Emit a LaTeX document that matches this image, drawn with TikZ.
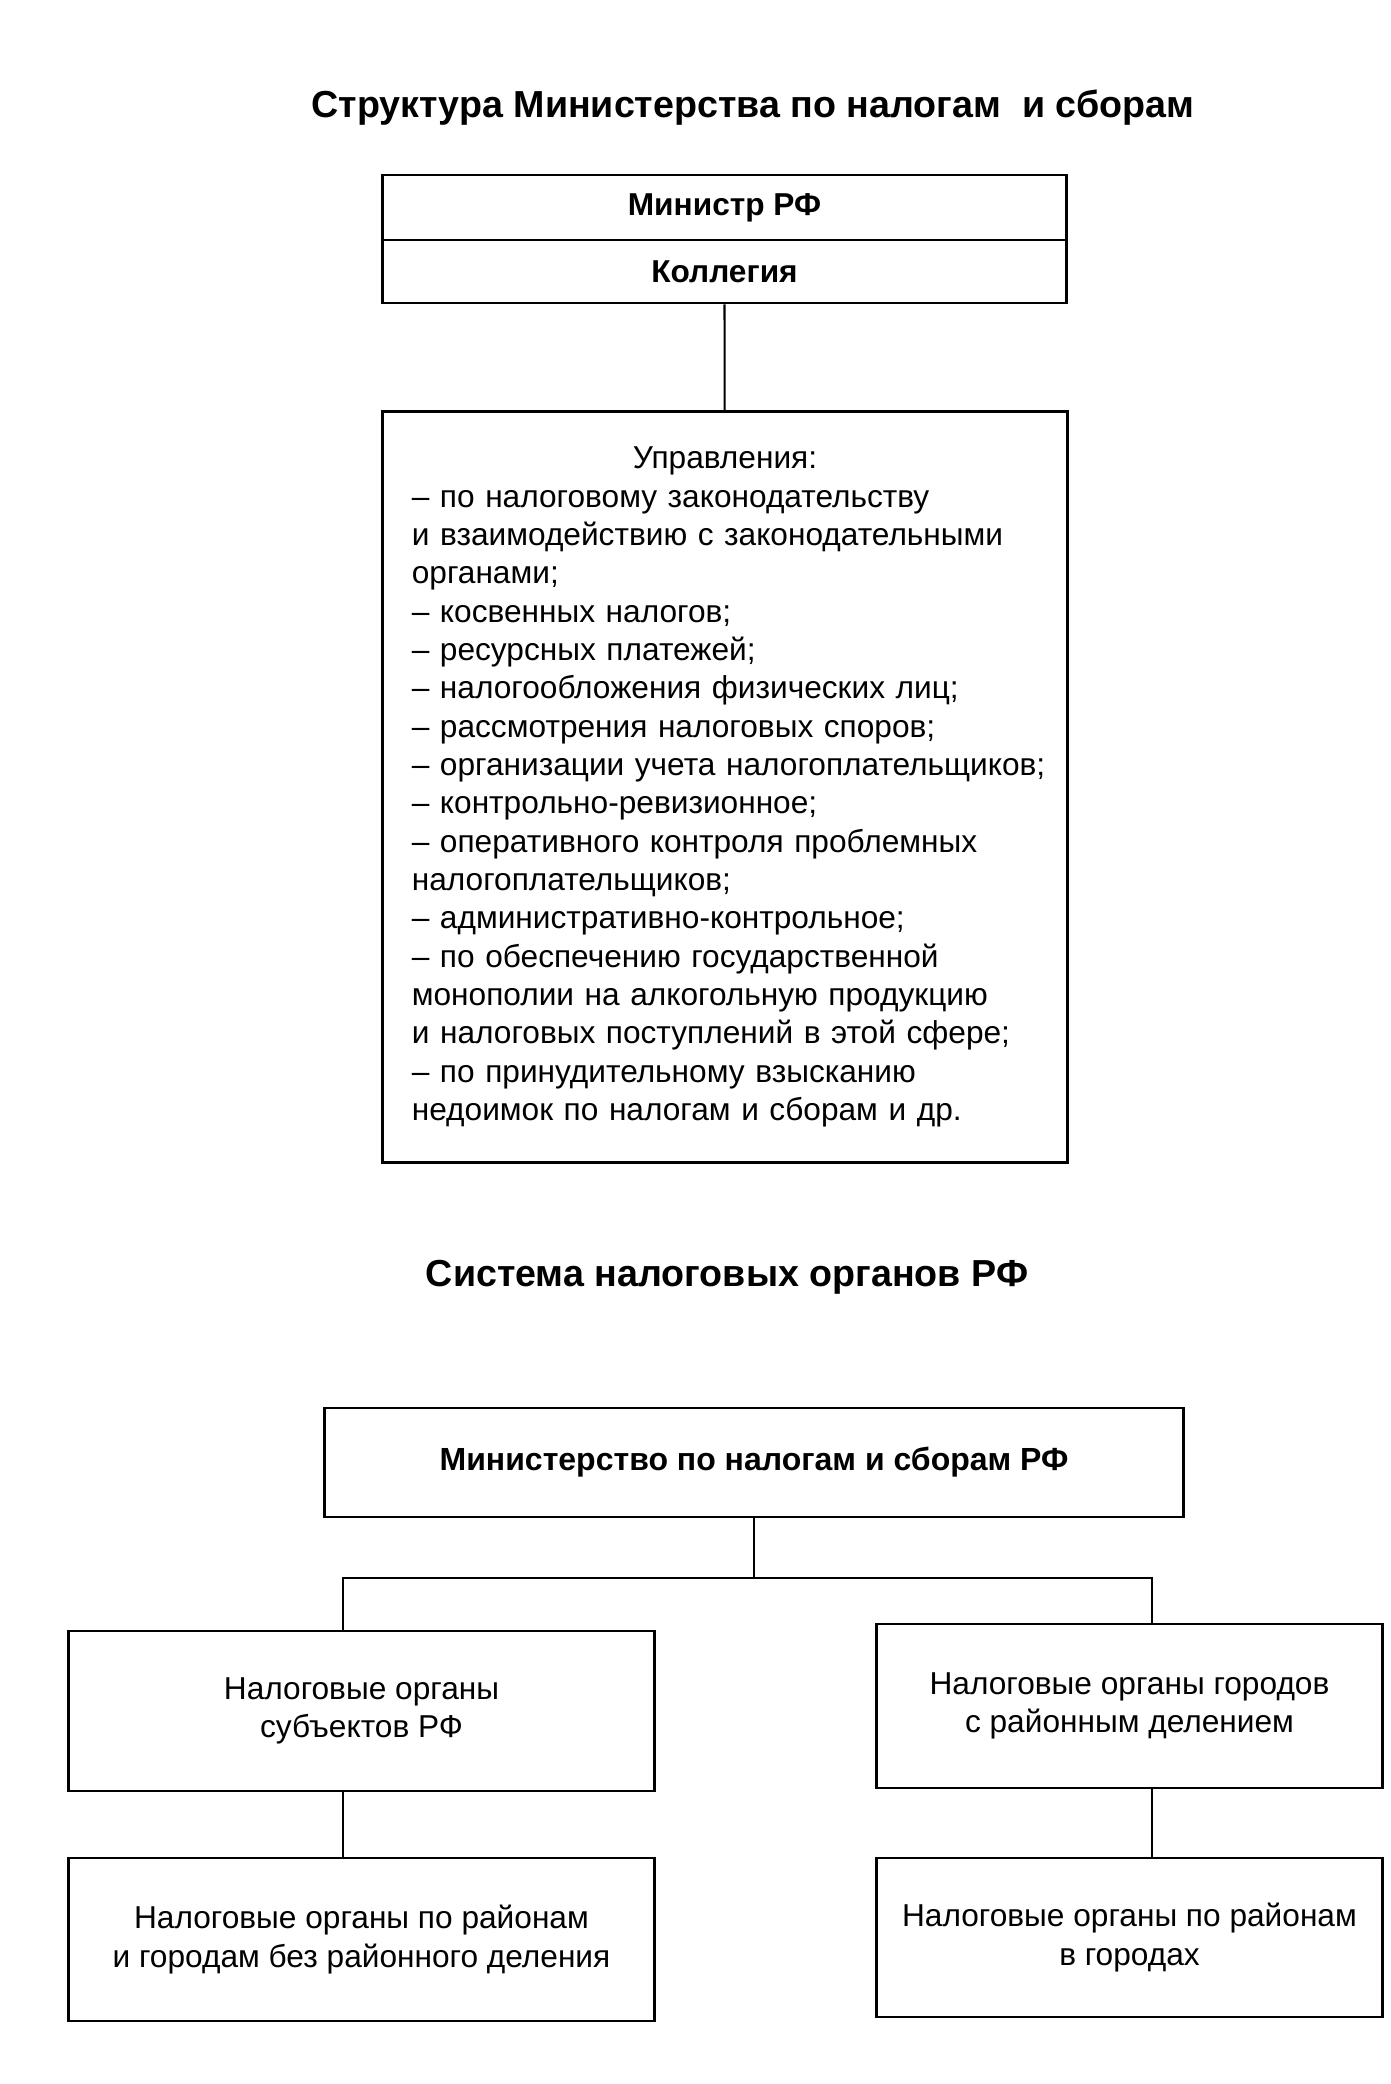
\documentclass[tikz,border=0pt]{standalone}
\usepackage{fontspec}
\setmainfont{Liberation Sans}
\usetikzlibrary{positioning,calc}
\begin{document}
\begin{tikzpicture}[x=0.01cm,y=-0.01cm,font=\fontsize{9}{11}\selectfont]
\tikzstyle{box}=[draw,line width=0.8pt,inner sep=0pt,align=center]
\tikzstyle{ttl}=[font=\fontsize{10.7}{13}\selectfont\bfseries]
\tikzstyle{link}=[line width=0.6pt]
\useasboundingbox (0,0) rectangle (1391,2084);
\node[ttl] (t1) at (753,108) {Структура Министерства по налогам\ \ и сборам};
\node[box,minimum width=6.83cm,minimum height=0.65cm,font=\fontsize{9}{11}\selectfont\bfseries] (min) at (724.5,207.5) {Министр РФ};
\node[box,minimum width=6.83cm,minimum height=0.63cm,font=\fontsize{9}{11}\selectfont\bfseries] (col) at (724.5,271.5) {Коллегия};
\node[box,minimum width=6.84cm,minimum height=7.51cm,text width=6.26cm,align=left,font=\fontsize{9}{10.9}\selectfont] (upr) at (725,787) {\makebox[6.26cm]{Управления:}\\
– по налоговому законодательству\\
и взаимодействию с законодательными\\
органами;\\
– косвенных налогов;\\
– ресурсных платежей;\\
– налогообложения физических лиц;\\
– рассмотрения налоговых споров;\\
\mbox{– организации учета налогоплательщиков;}\\
– контрольно-ревизионное;\\
– оперативного контроля проблемных\\
налогоплательщиков;\\
– административно-контрольное;\\
– по обеспечению государственной\\
монополии на алкогольную продукцию\\
и налоговых поступлений в этой сфере;\\
– по принудительному взысканию\\
недоимок по налогам и сборам и др.};
\draw[link] (col) -- (upr);
\node[ttl] (t2) at (727,1277) {Система налоговых органов РФ};
\node[box,minimum width=8.58cm,minimum height=1.09cm,font=\fontsize{9.1}{11}\selectfont\bfseries] (mns) at (754,1462.5) {Министерство по налогам и сборам РФ};
\node[box,minimum width=5.85cm,minimum height=1.60cm] (subj) at (361.5,1711) {Налоговые органы\\субъектов РФ};
\node[box,minimum width=5.05cm,minimum height=1.64cm] (cityd) at (1129.5,1706) {Налоговые органы городов\\с районным делением};
\node[box,minimum width=5.85cm,minimum height=1.63cm] (distr) at (361.5,1939.5) {Налоговые органы по районам\\и городам без районного деления};
\node[box,minimum width=5.05cm,minimum height=1.59cm] (citydist) at (1129.5,1937.5) {Налоговые органы по районам\\в городах};
\coordinate (busL) at (343,1578);
\coordinate (busR) at (1152,1578);
\draw[link] (mns.south) -- (mns.south |- busL);
\draw[link] (subj.north -| busL) -- (busL) -- (busR) -- (cityd.north -| busR);
\draw[link] (subj.south -| busL) -- (distr.north -| busL);
\draw[link] (cityd.south -| busR) -- (citydist.north -| busR);
\end{tikzpicture}
\end{document}
